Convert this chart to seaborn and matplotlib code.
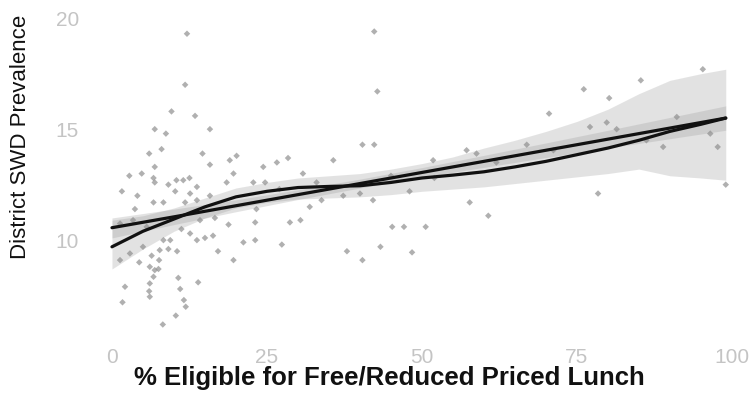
import matplotlib
matplotlib.use("Agg")
import matplotlib.pyplot as plt
import seaborn as sns
import pandas as pd

# ---- data ----
pts_x = [12.1, 11.8, 9.6, 13.4, 15.8, 6.9, 8.7, 8.0, 6.0, 14.6, 19.0, 20.1, 15.8, 24.4, 6.9,
         4.8, 2.8, 6.7, 19.6, 6.9, 9.1, 10.4, 11.5, 12.5, 13.7, 18.5, 22.8, 24.7, 1.6, 4.1,
         10.2, 12.6, 15.8, 6.7, 8.3, 3.7, 11.8, 13.7, 23.3, 14.2, 16.6, 23.1, 18.8, 11.2, 12.6,
         13.7, 15.0, 16.3, 21.2, 23.1, 8.3, 9.4, 7.7, 9.1, 10.5, 17.1, 19.6, 6.4, 7.6, 4.4,
         6.1, 6.9, 7.5, 6.7, 10.7, 2.1, 13.9, 6.1, 6.0, 6.1, 11.0, 11.6, 1.7, 11.9, 10.3,
         8.2, 3.4, 1.3, 5.6, 5.0, 1.3, 2.9,
         42.3, 42.8, 40.4, 42.3, 28.4, 35.7, 26.6, 30.8, 57.2, 58.8, 51.8, 57.7, 31.9, 33.8,
         37.3, 42.1, 40.0, 28.7, 30.4, 27.4, 45.2, 47.1, 50.6, 43.3, 37.9, 40.4, 48.4,
         85.3, 76.1, 80.2, 70.5, 91.1, 66.9, 81.4, 78.4, 60.7, 99.0, 96.5, 97.7, 86.2, 88.9,
         77.1, 79.8, 71.2, 95.3,
         27.0, 33.0, 45.0, 52.0, 62.0, 48.0]
pts_y = [19.3, 17.0, 15.8, 15.6, 15.0, 15.0, 14.8, 14.1, 13.9, 13.9, 13.6, 13.8, 13.4, 13.3, 13.3,
         13.0, 12.9, 12.8, 13.0, 12.6, 12.5, 12.7, 12.7, 12.8, 12.4, 12.6, 12.6, 12.6, 12.2, 12.0,
         12.2, 12.1, 12.0, 11.7, 11.7, 11.4, 11.7, 11.8, 11.4, 10.9, 11.0, 10.8, 10.7, 10.5, 10.3,
         10.0, 10.1, 10.2, 9.9, 10.0, 10.0, 10.0, 9.55, 9.6, 9.5, 9.5, 9.1, 9.3, 9.1, 9.0,
         8.8, 8.65, 8.7, 8.35, 8.3, 7.9, 8.1, 8.05, 7.7, 7.45, 7.8, 7.3, 7.2, 7.0, 6.6,
         6.2, 10.9, 10.75, 10.6, 9.7, 9.1, 9.4,
         19.4, 16.7, 14.3, 14.3, 13.7, 13.6, 13.5, 13.0, 14.05, 13.9, 13.6, 11.7, 11.5, 11.8,
         12.0, 11.8, 12.1, 10.8, 10.9, 9.8, 10.6, 10.6, 10.6, 9.7, 9.5, 9.1, 9.45,
         17.2, 16.8, 16.4, 15.7, 15.55, 14.3, 15.0, 12.1, 11.1, 12.5, 14.8, 14.2, 14.5, 14.2,
         15.1, 15.3, 14.05, 17.7,
         12.3, 12.6, 12.9, 12.8, 13.5, 12.2]

lin_x = [0, 10, 20, 30, 40, 50, 60, 70, 80, 90, 99]
lin_y = [10.56, 11.05, 11.55, 12.05, 12.55, 13.05, 13.55, 14.05, 14.55, 15.05, 15.5]
lin_lo = [10.1, 10.7, 11.28, 11.83, 12.35, 12.83, 13.28, 13.72, 14.15, 14.57, 14.95]
lin_hi = [11.0, 11.4, 11.82, 12.27, 12.75, 13.27, 13.82, 14.38, 14.95, 15.53, 16.05]

lo_x = [0, 5, 10, 15, 20, 25, 30, 35, 40, 45, 50, 55, 60, 65, 70, 75, 80, 85, 90, 95, 99]
lo_y = [9.7, 10.4, 10.95, 11.5, 11.95, 12.2, 12.37, 12.42, 12.45, 12.6, 12.8, 12.93, 13.08,
        13.3, 13.55, 13.85, 14.15, 14.5, 14.9, 15.22, 15.5]
lo_hi = [10.9, 11.1, 11.45, 11.9, 12.35, 12.6, 12.8, 12.9, 13.0, 13.2, 13.45, 13.75, 14.15,
         14.5, 14.9, 15.35, 15.9, 16.6, 17.2, 17.5, 17.7]
lo_lo = [8.7, 9.6, 10.4, 11.0, 11.45, 11.7, 11.85, 11.9, 11.95, 12.05, 12.2, 12.3, 12.4,
         12.55, 12.7, 12.85, 13.0, 13.2, 12.9, 12.8, 12.7]

x_ticks = [0, 25, 50, 75, 100]
y_ticks = [10, 15, 20]
x_label = "% Eligible for Free/Reduced Priced Lunch"
y_label = "District SWD Prevalence"

# ---- drawing ----
sns.set_theme(style="white")
plt.rcParams['font.family'] = ['Liberation Sans', 'DejaVu Sans']

fig = plt.figure(figsize=(7.56, 3.94), dpi=100)
ax = fig.add_axes([0.1153, 0.137, 0.8775, 0.845])

pts = pd.DataFrame({"x": pts_x, "y": pts_y})
lin = pd.DataFrame({"x": lin_x, "y": lin_y})
lo = pd.DataFrame({"x": lo_x, "y": lo_y})

ax.fill_between(lo_x, lo_lo, lo_hi, color="#9a9a9a", alpha=0.28, linewidth=0)
ax.fill_between(lin_x, lin_lo, lin_hi, color="#9a9a9a", alpha=0.28, linewidth=0)
sns.scatterplot(data=pts, x="x", y="y", ax=ax, color="#8f8f8f", alpha=0.7, s=11,
                marker="D", edgecolor="none", zorder=3)
sns.lineplot(data=lin, x="x", y="y", ax=ax, color="#111111", linewidth=2.3, zorder=4)
sns.lineplot(data=lo, x="x", y="y", ax=ax, color="#111111", linewidth=2.3, zorder=4)

ax.set_xlim(-4, 103)
ax.set_ylim(5.5, 20.5)
ax.set_xticks(x_ticks)
ax.set_yticks(y_ticks)
ax.tick_params(axis="both", length=0, labelsize=15, labelcolor="#c4c4c4", pad=6)
ax.set_xlabel(x_label, fontsize=18.5, color="#111111", fontweight="bold", va="center")
ax.set_ylabel(y_label, fontsize=16, color="#111111")
ax.xaxis.set_label_coords(0.456, -0.114)
ax.yaxis.set_label_coords(-0.085, 0.61)
for s in ax.spines.values():
    s.set_visible(False)
ax.grid(False)

fig.savefig("out.png", dpi=100)
